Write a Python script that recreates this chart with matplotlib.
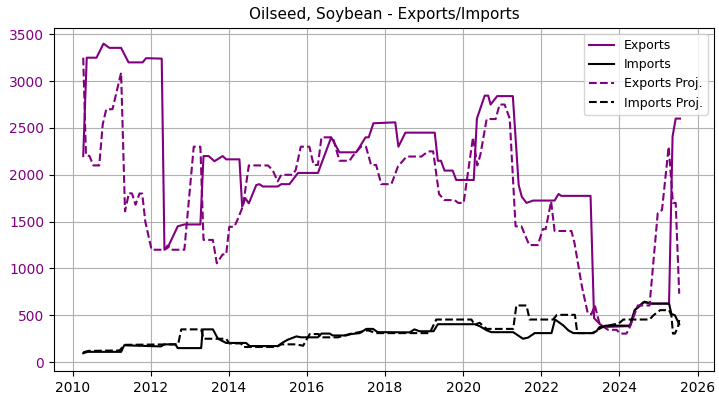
import matplotlib
matplotlib.use("Agg")
import matplotlib.pyplot as plt

# vertices (decimal year, value)
exp_x = [2010.27, 2010.36, 2010.61, 2010.79, 2010.94, 2011.24, 2011.43, 2011.79, 2011.88,
         2012.28, 2012.35, 2012.43, 2012.69, 2012.86, 2013.27, 2013.35, 2013.48, 2013.63,
         2013.84, 2013.93, 2014.27, 2014.34, 2014.42, 2014.51, 2014.70, 2014.78, 2014.87,
         2015.25, 2015.34, 2015.55, 2015.77, 2016.28, 2016.62, 2016.83, 2017.26, 2017.35,
         2017.50, 2017.58, 2017.70, 2018.26, 2018.34, 2018.52, 2019.27, 2019.35, 2019.43,
         2019.52, 2019.73, 2019.82, 2020.27, 2020.35, 2020.55, 2020.64, 2020.70, 2020.87,
         2021.27, 2021.42, 2021.50, 2021.62, 2021.79, 2022.34, 2022.44, 2022.51, 2023.26,
         2023.35, 2023.49, 2023.60, 2024.27, 2024.40, 2024.61, 2024.82, 2025.27, 2025.36,
         2025.44, 2025.55]
exp_y = [2200, 3250, 3250, 3400, 3355, 3355, 3200, 3200, 3245,
         3240, 1200, 1220, 1450, 1470, 1470, 2200, 2200, 2145,
         2200, 2165, 2165, 1660, 1750, 1695, 1890, 1900, 1875,
         1875, 1900, 1900, 2020, 2020, 2400, 2240, 2240, 2300,
         2400, 2400, 2550, 2560, 2300, 2450, 2450, 2150, 2150,
         2045, 2045, 1945, 1945, 2600, 2845, 2845, 2750, 2840,
         2840, 1890, 1765, 1700, 1725, 1725, 1795, 1775, 1775,
         470, 410, 375, 385, 560, 640, 625, 625, 2410,
         2600, 2600]

imp_x = [2010.27, 2010.38, 2011.24, 2011.32, 2012.26, 2012.35, 2012.63, 2012.69, 2013.29,
         2013.33, 2013.59, 2013.72, 2013.93, 2014.44, 2014.53, 2015.25, 2015.38, 2015.51,
         2015.73, 2015.85, 2016.28, 2016.37, 2016.58, 2016.66, 2017.00, 2017.13, 2017.35,
         2017.52, 2017.69, 2017.81, 2018.02, 2018.63, 2018.75, 2018.88, 2019.24, 2019.35,
         2020.29, 2020.42, 2020.60, 2020.72, 2021.28, 2021.53, 2021.66, 2021.83, 2022.26,
         2022.35, 2022.56, 2022.69, 2022.82, 2023.29, 2023.41, 2023.49, 2023.66, 2024.27,
         2024.39, 2024.52, 2024.64, 2024.82, 2025.27, 2025.33, 2025.42, 2025.53]
imp_y = [95, 110, 110, 180, 168, 190, 190, 150, 150,
         350, 350, 250, 205, 205, 172, 172, 210, 240,
         275, 265, 265, 305, 305, 285, 285, 300, 310,
         355, 355, 320, 320, 318, 350, 330, 330, 405,
         405, 385, 340, 320, 320, 250, 262, 310, 310,
         455, 393, 340, 310, 310, 330, 375, 390, 390,
         555, 600, 645, 625, 625, 515, 500, 405]

exp_proj_x = [2010.27, 2010.34, 2010.43, 2010.53, 2010.68, 2010.77, 2010.86, 2011.02, 2011.24,
              2011.34, 2011.44, 2011.52, 2011.61, 2011.71, 2011.78, 2011.86, 2012.02, 2012.35,
              2012.43, 2012.52, 2012.86, 2013.10, 2013.27, 2013.35, 2013.59, 2013.69, 2013.84,
              2013.93, 2014.01, 2014.14, 2014.22, 2014.36, 2014.51, 2015.00, 2015.12, 2015.25,
              2015.34, 2015.63, 2015.71, 2015.84, 2016.06, 2016.17, 2016.28, 2016.37, 2016.66,
              2016.83, 2017.09, 2017.17, 2017.38, 2017.51, 2017.64, 2017.77, 2017.90, 2018.16,
              2018.33, 2018.55, 2018.93, 2019.10, 2019.23, 2019.38, 2019.52, 2019.78, 2019.87,
              2020.01, 2020.25, 2020.36, 2020.44, 2020.60, 2020.83, 2020.93, 2021.06, 2021.19,
              2021.34, 2021.49, 2021.69, 2021.91, 2022.04, 2022.11, 2022.25, 2022.34, 2022.77,
              2022.85, 2023.04, 2023.19, 2023.28, 2023.37, 2023.49, 2023.60, 2023.71, 2023.93,
              2024.01, 2024.18, 2024.27, 2024.47, 2024.77, 2024.98, 2025.09, 2025.26, 2025.37,
              2025.44, 2025.53]
exp_proj_y = [3250, 2210, 2200, 2100, 2100, 2540, 2700, 2700, 3090,
              1610, 1805, 1800, 1680, 1800, 1800, 1500, 1200, 1200,
              1245, 1200, 1200, 2300, 2300, 1305, 1305, 1055, 1150,
              1150, 1445, 1445, 1520, 1665, 2100, 2100, 2050, 1930,
              2000, 2000, 2050, 2300, 2300, 2105, 2105, 2400, 2400,
              2150, 2150, 2200, 2300, 2300, 2105, 2105, 1900, 1900,
              2090, 2195, 2195, 2250, 2250, 1795, 1730, 1730, 1700,
              1700, 2400, 2100, 2215, 2595, 2595, 2750, 2750, 2600,
              1450, 1450, 1250, 1250, 1420, 1420, 1715, 1400, 1400,
              1270, 805, 520, 510, 605, 410, 375, 345, 345,
              305, 305, 380, 605, 605, 1590, 1625, 2300, 1700,
              1700, 730]

imp_proj_x = [2010.27, 2010.40, 2011.20, 2011.33, 2012.61, 2012.70, 2012.78, 2013.29, 2013.35,
              2013.93, 2014.01, 2014.31, 2014.36, 2015.22, 2015.34, 2015.73, 2015.90, 2016.07,
              2016.30, 2016.33, 2016.79, 2017.09, 2017.39, 2017.56, 2017.77, 2019.14, 2019.31,
              2020.21, 2020.29, 2020.42, 2020.60, 2021.28, 2021.36, 2021.62, 2021.70, 2022.30,
              2022.40, 2022.86, 2022.92, 2023.33, 2023.46, 2023.60, 2023.88, 2023.96, 2024.10,
              2024.77, 2024.87, 2025.04, 2025.27, 2025.33, 2025.37, 2025.42, 2025.50, 2025.53]
imp_proj_y = [105, 120, 125, 185, 190, 190, 350, 350, 250,
              250, 200, 200, 162, 162, 190, 190, 175, 300,
              300, 265, 265, 300, 325, 340, 310, 310, 455,
              455, 400, 420, 355, 355, 605, 605, 455, 455,
              505, 505, 310, 310, 350, 380, 405, 405, 455,
              455, 500, 555, 555, 500, 305, 305, 375, 450]

PURPLE = "#800080"

fig, ax = plt.subplots(figsize=(7.19, 3.96), dpi=100)
ax.plot(exp_x, exp_y, color=PURPLE, lw=1.5, label="Exports")
ax.plot(imp_x, imp_y, color="black", lw=1.5, label="Imports")
ax.plot(exp_proj_x, exp_proj_y, color=PURPLE, lw=1.5, ls="--", label="Exports Proj.")
ax.plot(imp_proj_x, imp_proj_y, color="black", lw=1.5, ls="--", label="Imports Proj.")

ax.set_title("Oilseed, Soybean - Exports/Imports", fontsize=11)
ax.set_xticks(range(2010, 2027, 2))
ax.set_xlim(2009.52, 2026.42)
ax.set_ylim(-95, 3570)
ax.set_yticks(range(0, 3501, 500))
ax.tick_params(axis="y", labelcolor=PURPLE)
ax.grid(True, color="#b0b0b0", lw=0.8)
ax.legend(loc="upper right", fontsize=9)

fig.subplots_adjust(left=0.075, right=0.993, top=0.93, bottom=0.063)
fig.savefig("out.png")
